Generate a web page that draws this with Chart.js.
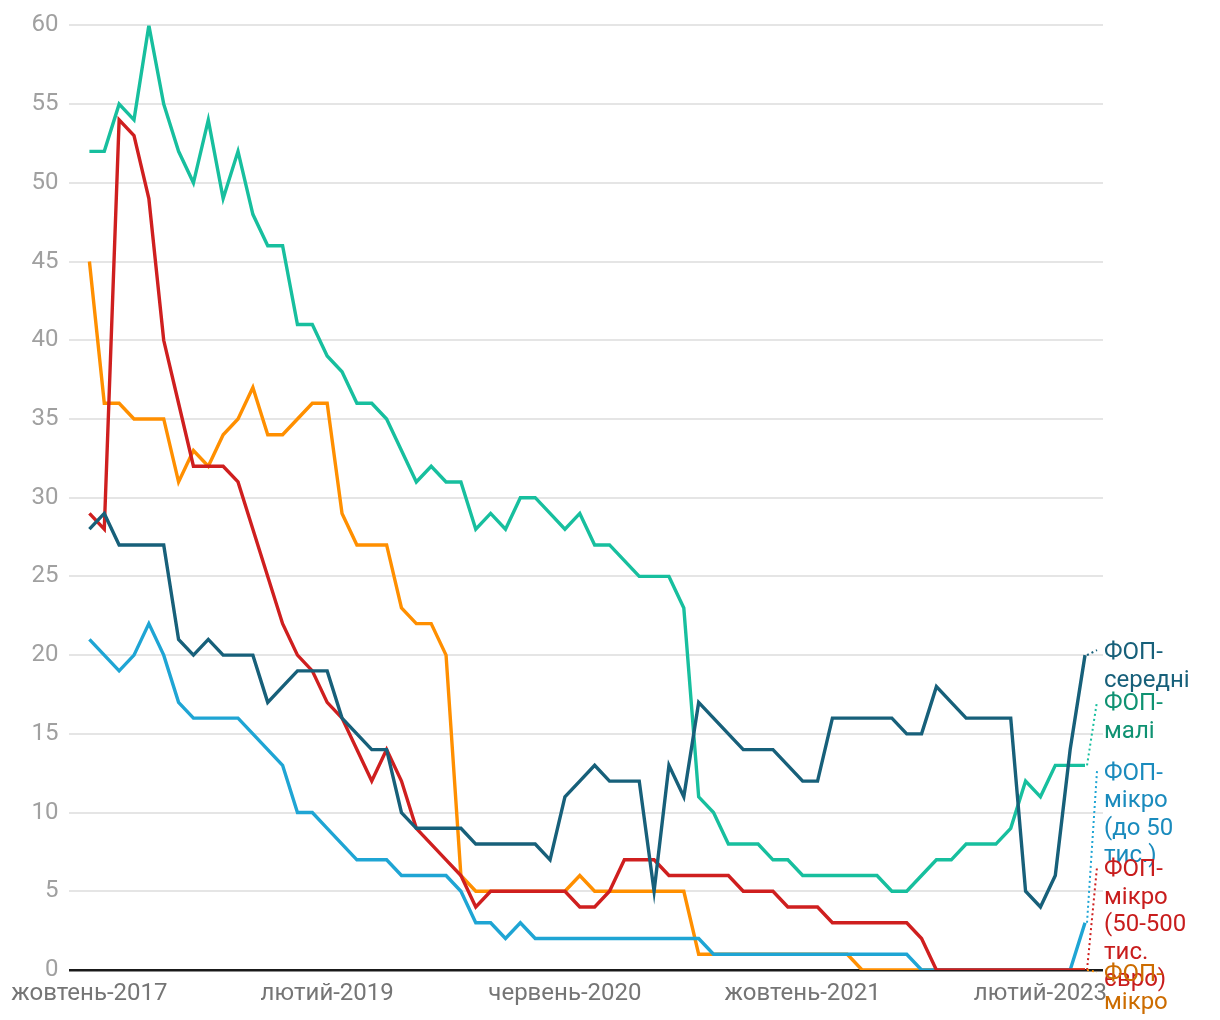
<!DOCTYPE html>
<html>
<head>
<meta charset="utf-8">
<script src="https://cdn.jsdelivr.net/npm/chart.js@4"></script>
<style>
body { margin: 0; background: #fff; }
#wrap { width: 1220px; height: 1020px; }
</style>
</head>
<body>
<div id="wrap"><canvas id="fopChart" width="1220" height="1020"></canvas></div>
<script>
// жовтень-2017 ... травень-2023, щомісяця
let tickIdx = [0, 16, 32, 48, 64];
let tickLabels = ["жовтень-2017", "лютий-2019", "червень-2020", "жовтень-2021", "лютий-2023"];

let names = ["ФОП-середні", "ФОП-малі", "ФОП-мікро (до 50 тис.)", "ФОП-мікро (50-500 тис. євро)", "ФОП-мікро"];

let seredni = [28,29,27,27,27,27,21,20,21,20, 20,20,17,18,19,19,19,16,15,14, 14,10,9,9,9,9,8,8,8,8, 8,7,11,12,13,12,12,12,5,13, 11,17,16,15,14,14,14,13,12,12, 16,16,16,16,16,15,15,18,17,16, 16,16,16,5,4,6,14,20];
let mali = [52,52,55,54,60,55,52,50,54,49, 52,48,46,46,41,41,39,38,36,36, 35,33,31,32,31,31,28,29,28,30, 30,29,28,29,27,27,26,25,25,25, 23,11,10,8,8,8,7,7,6,6, 6,6,6,6,5,5,6,7,7,8, 8,8,9,12,11,13,13,13];
let mikro50 = [21,20,19,20,22,20,17,16,16,16, 16,15,14,13,10,10,9,8,7,7, 7,6,6,6,6,5,3,3,2,3, 2,2,2,2,2,2,2,2,2,2, 2,2,1,1,1,1,1,1,1,1, 1,1,1,1,1,1,0,0,0,0, 0,0,0,0,0,0,0,3];
let mikro500 = [29,28,54,53,49,40,36,32,32,32, 31,28,25,22,20,19,17,16,14,12, 14,12,9,8,7,6,4,5,5,5, 5,5,5,4,4,5,7,7,7,6, 6,6,6,6,5,5,5,4,4,4, 3,3,3,3,3,3,2,0,0,0, 0,0,0,0,0,0,0,0];
let mikroInshi = [45,36,36,35,35,35,31,33,32,34, 35,37,34,34,35,36,36,29,27,27, 27,23,22,22,20,6,5,5,5,5, 5,5,5,6,5,5,5,5,5,5, 5,1,1,1,1,1,1,1,1,1, 1,1,0,0,0,0,0,0,0,0, 0,0,0,0,0,0,0,0];

let series = [seredni, mali, mikro50, mikro500, mikroInshi];
let lineColors = ["#17607a", "#17bf9e", "#1fa5d4", "#cf1f1f", "#ff8f00"];
let textColors = ["#17607a", "#0f9272", "#1a8bbd", "#c81d1d", "#cc6c00"];
let drawOrder = [0, 2, 3, 1, 4];
let labelDy = [-2, -61, -149, -100, 5];

const FONT = "Roboto, 'Noto Sans', sans-serif";

function toPoints(arr) {
  return arr.map((v, i) => ({ x: i, y: v }));
}

function wrapText(ctx, text, maxW) {
  let parts = text.match(/[^\s-]+-?|\s+/g) || [];
  let lines = [];
  let cur = "";
  parts.forEach(p => {
    if (/^\s+$/.test(p)) { cur += " "; return; }
    let test = cur + p;
    if (cur.trim() && ctx.measureText(test.trim()).width > maxW) {
      lines.push(cur.trim());
      cur = p;
    } else {
      cur = test;
    }
  });
  if (cur.trim()) lines.push(cur.trim());
  return lines;
}

const endLabels = {
  id: "endLabels",
  afterDatasetsDraw(chart) {
    const ctx = chart.ctx;
    ctx.save();
    ctx.font = "24px " + FONT;
    ctx.textBaseline = "middle";
    ctx.textAlign = "left";
    chart.data.datasets.forEach((ds, di) => {
      const meta = chart.getDatasetMeta(di);
      const last = meta.data[meta.data.length - 1];
      const ly = last.y + labelDy[di];
      const lx = last.x + 19;
      ctx.strokeStyle = lineColors[di];
      ctx.lineWidth = 2;
      ctx.setLineDash([2, 3]);
      ctx.beginPath();
      ctx.moveTo(last.x + 2, last.y);
      ctx.lineTo(lx - 7, ly - 3);
      ctx.stroke();
      ctx.setLineDash([]);
      ctx.fillStyle = textColors[di];
      wrapText(ctx, ds.label, 100).forEach((line, k) => {
        ctx.fillText(line, lx, ly + k * 27.5);
      });
    });
    ctx.restore();
  }
};

function drawChart() {
  const ctx = document.getElementById("fopChart").getContext("2d");
  new Chart(ctx, {
    type: "line",
    data: {
      datasets: series.map((arr, i) => ({
        label: names[i],
        data: toPoints(arr),
        borderColor: lineColors[i],
        borderWidth: 3.4,
        pointRadius: 0,
        tension: 0,
        fill: false,
        order: drawOrder[i]
      }))
    },
    options: {
      responsive: false,
      animation: false,
      layout: { padding: { top: 24, right: 117, bottom: 0, left: 0 } },
      plugins: { legend: { display: false }, tooltip: { enabled: false } },
      scales: {
        x: {
          type: "linear",
          min: -1.344,
          max: 68.21,
          afterBuildTicks: s => { s.ticks = tickIdx.map(v => ({ value: v })); },
          afterFit: s => { s.height = 50; },
          grid: { display: false, drawTicks: false },
          border: { display: false },
          ticks: {
            padding: 10,
            autoSkip: false,
            maxRotation: 0,
            color: "#757575",
            font: { size: 24, family: FONT },
            callback: v => tickLabels[tickIdx.indexOf(v)]
          }
        },
        y: {
          min: 0,
          max: 60,
          afterFit: s => { s.width = 68; },
          grid: {
            drawTicks: false,
            color: c => c.tick.value === 0 ? "#1a1a1a" : "#e5e5e5",
            lineWidth: c => c.tick.value === 0 ? 2.5 : 2
          },
          border: { display: false },
          ticks: {
            stepSize: 5,
            padding: 11,
            color: "#a0a0a0",
            font: { size: 24, family: FONT }
          }
        }
      }
    },
    plugins: [endLabels]
  });
}

drawChart();
</script>
</body>
</html>
